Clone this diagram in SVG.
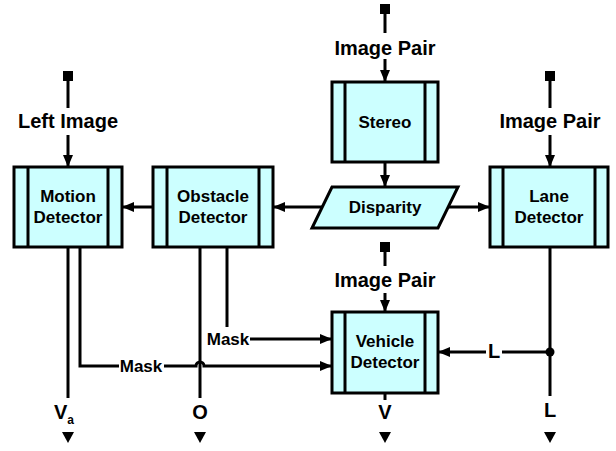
<svg xmlns="http://www.w3.org/2000/svg" width="616" height="451" viewBox="0 0 616 451">
  <defs>
    <marker id="arr" viewBox="0 0 12 10" refX="12" refY="5" markerWidth="12" markerHeight="10" markerUnits="userSpaceOnUse" orient="auto">
      <path d="M0,0 L12,5 L0,10 Z" fill="#000"/>
    </marker>
    <marker id="sq" viewBox="0 0 10 10" refX="5" refY="5" markerWidth="10" markerHeight="10" markerUnits="userSpaceOnUse" orient="auto">
      <rect x="0" y="0" width="10" height="10" fill="#000"/>
    </marker>
  </defs>
  <style>
    .box { fill: #ccffff; stroke: #000; stroke-width: 3; }
    .bar { fill: none; stroke: #000; stroke-width: 3; }
    .wire { fill: none; stroke: #000; stroke-width: 3; }
    .lbl { font-family: "Liberation Sans", Arial, sans-serif; font-weight: bold; font-size: 17px; fill: #000; text-anchor: middle; }
    .io { font-family: "Liberation Sans", Arial, sans-serif; font-weight: bold; font-size: 20px; fill: #000; text-anchor: middle; }
    .tip { fill: #000; }
  </style>
  <rect width="616" height="451" fill="#fff"/>

  <!-- connectors -->
  <g id="connectors">
    <!-- image inputs -->
    <path class="wire" d="M68,76 V108" marker-start="url(#sq)"/>
    <path class="wire" d="M68,135 V167" marker-end="url(#arr)"/>
    <path class="wire" d="M385,9 V33" marker-start="url(#sq)"/>
    <path class="wire" d="M385,59 V82" marker-end="url(#arr)"/>
    <path class="wire" d="M550,76 V108" marker-start="url(#sq)"/>
    <path class="wire" d="M550,135 V167" marker-end="url(#arr)"/>
    <path class="wire" d="M385,247 V266" marker-start="url(#sq)"/>
    <path class="wire" d="M385,293 V312" marker-end="url(#arr)"/>
    <!-- stereo to disparity -->
    <path class="wire" d="M385,162 V187" marker-end="url(#arr)"/>
    <!-- disparity out -->
    <path class="wire" d="M322,207 H273" marker-end="url(#arr)"/>
    <path class="wire" d="M448,207 H490" marker-end="url(#arr)"/>
    <!-- obstacle to motion -->
    <path class="wire" d="M153,207 H122" marker-end="url(#arr)"/>
    <!-- motion outputs -->
    <path class="wire" d="M68,247 V398"/>
    <path class="wire" d="M80,247 V366 H119"/>
    <path class="wire" d="M164,366 H196 A4,4 0 0 1 204,366 H332" marker-end="url(#arr)"/>
    <!-- obstacle outputs -->
    <path class="wire" d="M200,247 V398"/>
    <path class="wire" d="M227,247 V327"/>
    <path class="wire" d="M250,339 H332" marker-end="url(#arr)"/>
    <!-- vehicle output -->
    <path class="wire" d="M385,393 V400"/>
    <!-- lane outputs -->
    <path class="wire" d="M550,247 V396"/>
    <path class="wire" d="M550,352 H502"/>
    <path class="wire" d="M486,352 H438" marker-end="url(#arr)"/>
    <circle cx="550" cy="352" r="4.5" fill="#000"/>
    <!-- output tips -->
    <path class="tip" d="M62,432 L74,432 L68,443 Z"/>
    <path class="tip" d="M194,432 L206,432 L200,443 Z"/>
    <path class="tip" d="M379,432 L391,432 L385,443 Z"/>
    <path class="tip" d="M544,432 L556,432 L550,443 Z"/>
  </g>

  <!-- connector labels -->
  <g id="labels">
    <text class="io" x="68" y="128">Left Image</text>
    <text class="io" x="385" y="55">Image Pair</text>
    <text class="io" x="550" y="128">Image Pair</text>
    <text class="io" x="385" y="287">Image Pair</text>
    <text class="lbl" x="141" y="372">Mask</text>
    <text class="lbl" x="228" y="345">Mask</text>
    <text class="io" x="494" y="358">L</text>
    <text class="io" x="64" y="419">V<tspan font-size="12" dy="5">a</tspan></text>
    <text class="io" x="200" y="419">O</text>
    <text class="io" x="385" y="419">V</text>
    <text class="io" x="550" y="417">L</text>
  </g>

  <g id="motion">
    <rect class="box" x="14" y="167" width="108" height="80"/>
    <path class="bar" d="M28,167 V247 M108,167 V247"/>
    <text class="lbl" x="68" y="202">Motion</text>
    <text class="lbl" x="68" y="223">Detector</text>
  </g>

  <g id="obstacle">
    <rect class="box" x="153" y="167" width="120" height="80"/>
    <path class="bar" d="M167,167 V247 M259,167 V247"/>
    <text class="lbl" x="213" y="202">Obstacle</text>
    <text class="lbl" x="213" y="223">Detector</text>
  </g>

  <g id="stereo">
    <rect class="box" x="332" y="82" width="106" height="80"/>
    <path class="bar" d="M345,82 V162 M425,82 V162"/>
    <text class="lbl" x="385" y="128">Stereo</text>
  </g>

  <g id="disparity">
    <path class="box" d="M332,187 H458 L438,228 H312 Z"/>
    <text class="lbl" x="385" y="213">Disparity</text>
  </g>

  <g id="lane">
    <rect class="box" x="490" y="167" width="118" height="80"/>
    <path class="bar" d="M503,167 V247 M595,167 V247"/>
    <text class="lbl" x="549" y="202">Lane</text>
    <text class="lbl" x="549" y="223">Detector</text>
  </g>

  <g id="vehicle">
    <rect class="box" x="332" y="312" width="106" height="81"/>
    <path class="bar" d="M345,312 V393 M425,312 V393"/>
    <text class="lbl" x="385" y="347">Vehicle</text>
    <text class="lbl" x="385" y="368">Detector</text>
  </g>
</svg>
